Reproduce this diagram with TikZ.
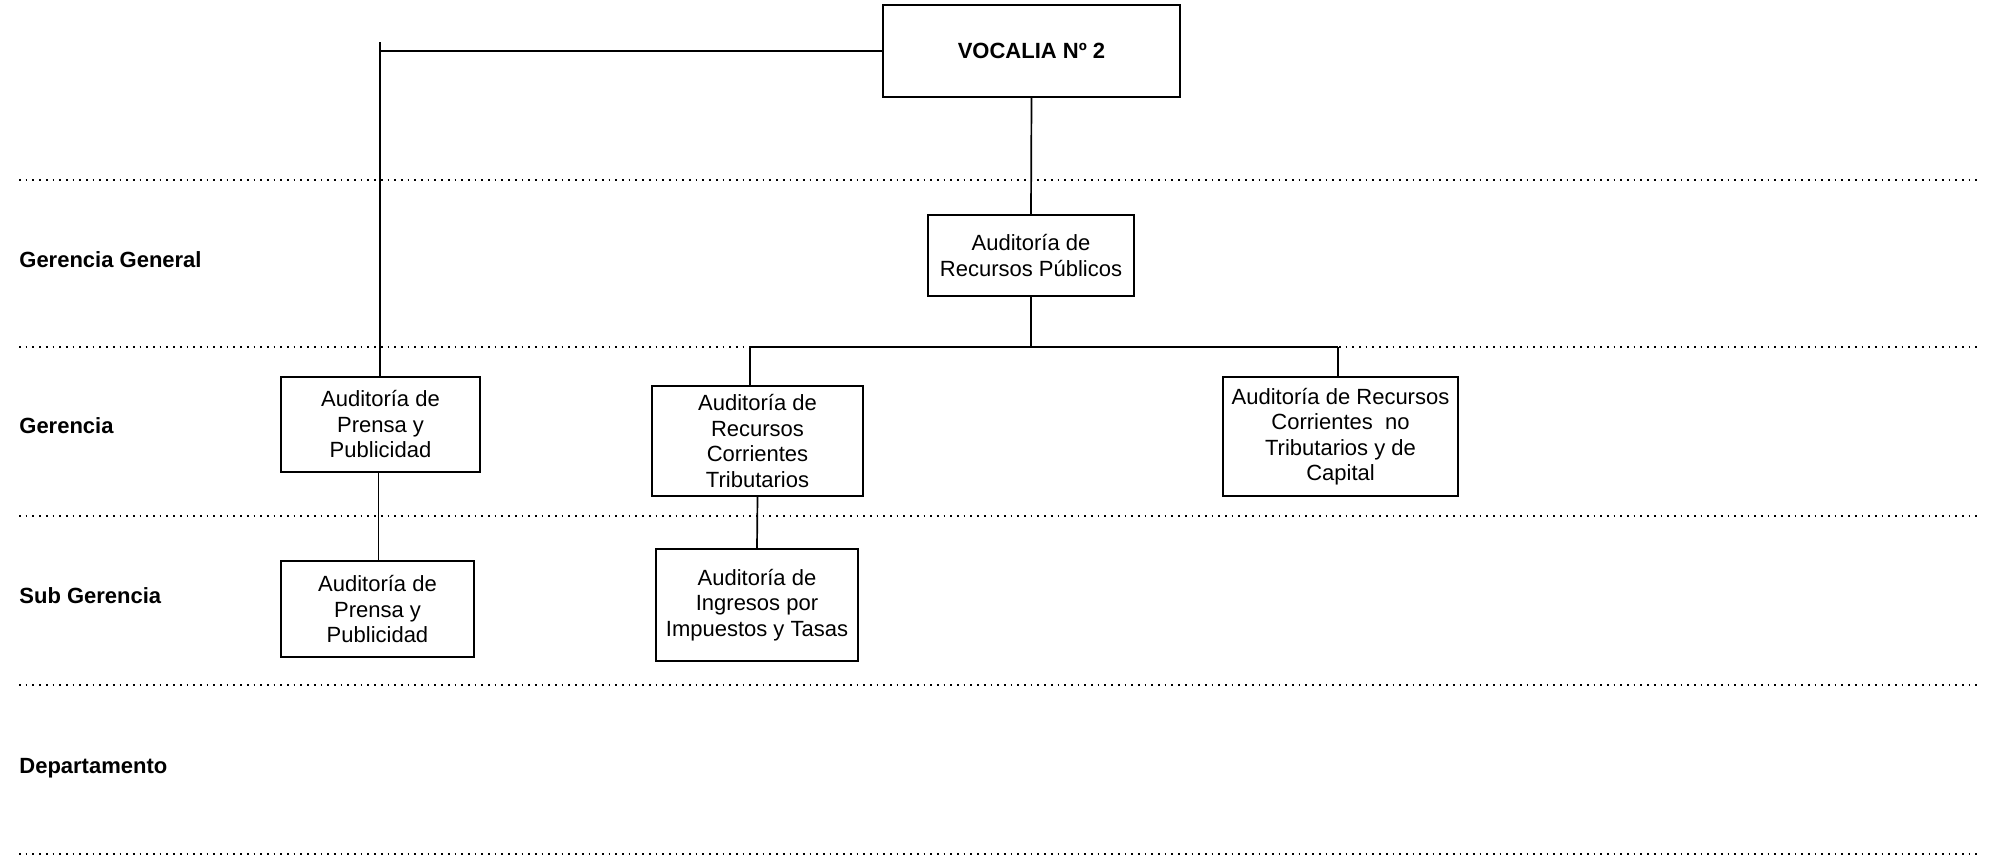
\documentclass[tikz,border=0pt]{standalone}
\usepackage{fontspec}
\setmainfont{Liberation Sans}
\begin{document}
\begin{tikzpicture}[x=0.5pt,y=-0.5pt,
  box/.style={draw, line width=0.85pt, inner sep=0pt, align=center,
    font=\fontsize{11pt}{12.75pt}\selectfont},
  boldbox/.style={box, font=\fontsize{11pt}{12.75pt}\selectfont\bfseries},
  lvl/.style={anchor=base west, inner sep=0pt,
    font=\fontsize{11pt}{13pt}\selectfont\bfseries},
  dots/.style={line width=0.85pt, dash pattern=on 0.85pt off 2.5pt},
  conn/.style={line width=0.85pt}]
\useasboundingbox (0,0) rectangle (1993,857);

% level separators
\foreach \yy in {180,347,516,685,854}
  \draw[dots] (19,\yy) -- (1980,\yy);

% level labels
\node[lvl] (lgg) at (19,267) {Gerencia General};
\node[lvl] (lg)  at (19,433) {Gerencia};
\node[lvl] (lsg) at (19,603) {Sub Gerencia};
\node[lvl] (ld)  at (19,773) {Departamento};

% boxes
\node[boldbox, minimum width=148.5pt, minimum height=46pt] (voc) at (1031.5,51) {VOCALIA Nº 2};
\node[box, minimum width=103pt, minimum height=40.5pt] (pub) at (1031,255.5) {Auditoría de\\Recursos Públicos};
\node[box, minimum width=99.5pt, minimum height=47.5pt] (pren) at (380.5,424.5) {Auditoría de\\Prensa y\\Publicidad};
\node[box, minimum width=105.5pt, minimum height=55pt] (trib) at (757.5,441) {Auditoría de\\Recursos\\Corrientes\\Tributarios};
\node[box, minimum width=117.5pt, minimum height=59.5pt] (cap) at (1340.5,436.5) {Auditoría de Recursos\\Corrientes\ \ no\\Tributarios y de\\Capital};
\node[box, minimum width=96.5pt, minimum height=48pt] (spren) at (377.5,609) {Auditoría de\\Prensa y\\Publicidad};
\node[box, minimum width=101pt, minimum height=56pt] (ing) at (757,605) {Auditoría de\\Ingresos por\\Impuestos y Tasas};

% connectors
\coordinate (topL) at (380,42);
\coordinate (vsub) at (378.5,0);
\coordinate (barL) at (750,347);
\coordinate (barR) at (1338,347);
\draw[conn] (voc.west) -- (voc.west -| topL);
\draw[conn] (topL) -- (topL |- pren.north);
\draw[conn] (voc.south) -- (pub.north);
\draw[conn] (pub.south) -- (pub.south |- barL);
\draw[conn] (barL) -- (barR);
\draw[conn] (barL) -- (barL |- trib.north);
\draw[conn] (barR) -- (barR |- cap.north);
\draw[conn] (pren.south -| vsub) -- (spren.north -| vsub);
\draw[conn] (trib.south) -- (ing.north);
\end{tikzpicture}
\end{document}
